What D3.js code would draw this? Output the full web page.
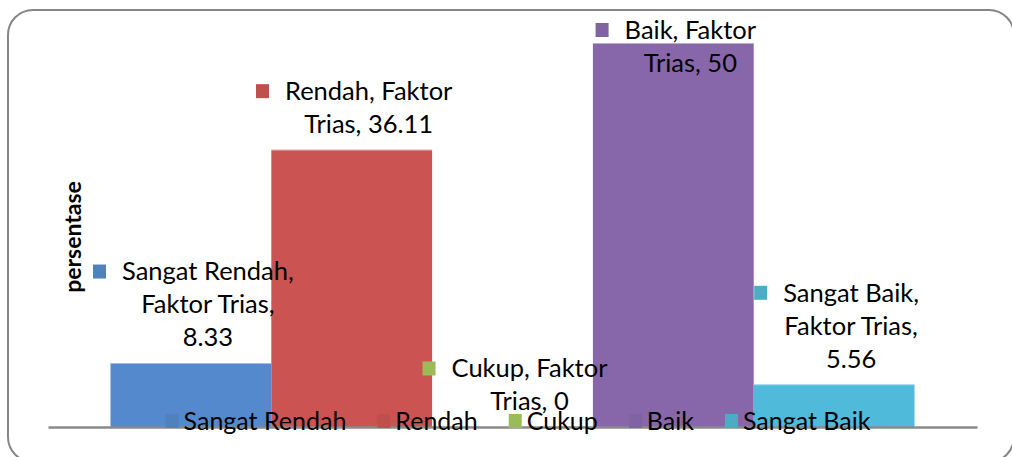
<!DOCTYPE html>
<html>
<head>
<meta charset="utf-8">
<script src="https://cdn.jsdelivr.net/npm/d3@7"></script>
<style>
  html, body { margin: 0; padding: 0; background: #fff; }
  svg { display: block; }
  text { font-family: Lato, "Open Sans", sans-serif; fill: #000; }
</style>
</head>
<body>
<svg id="chart" width="1012" height="457"></svg>
<script>
const categories = ["Faktor Trias"];
const seriesNames = ["Sangat Rendah", "Rendah", "Cukup", "Baik", "Sangat Baik"];
const seriesValues = [8.33, 36.11, 0, 50, 5.56];
const labelLines = [
  ["Sangat Rendah,", "Faktor Trias,", "8.33"],
  ["Rendah, Faktor", "Trias, 36.11"],
  ["Cukup, Faktor", "Trias, 0"],
  ["Baik, Faktor", "Trias, 50"],
  ["Sangat Baik,", "Faktor Trias,", "5.56"]
];
const barColors = ["#5589CD", "#CB5453", "#9BBB59", "#8767A9", "#4FBAD9"];
const keyColors = ["#4F81BD", "#C0504D", "#9BBB59", "#8064A2", "#4BACC6"];
const yAxisTitle = "persentase";

const svg = d3.select("#chart");
const plot = { left: 48, right: 977, top: 43, bottom: 427 };

// outer rounded frame
svg.append("rect")
  .attr("x", 8).attr("y", 10).attr("width", 1006).attr("height", 452)
  .attr("rx", 25).attr("ry", 25)
  .attr("fill", "#fff").attr("stroke", "#868686").attr("stroke-width", 2);

const y = d3.scaleLinear().domain([0, 50]).range([plot.bottom, plot.top]);
const x0 = d3.scaleBand().domain(categories).range([plot.left, plot.right]).paddingInner(0).paddingOuter(0.0);
const groupPad = 62.5;
const x1 = d3.scaleBand().domain(seriesNames)
  .range([x0(categories[0]) + groupPad, x0(categories[0]) + x0.bandwidth() - groupPad]);

const data = seriesNames.map((s, i) => ({ name: s, value: seriesValues[i], i }));

// bars
svg.append("g").selectAll("rect").data(data).join("rect")
  .attr("x", d => x1(d.name))
  .attr("width", x1.bandwidth())
  .attr("y", d => y(d.value))
  .attr("height", d => y(0) - y(d.value))
  .attr("fill", d => barColors[d.i]);
// light top edge
svg.append("g").selectAll("line").data(data.filter(d => d.value > 0)).join("line")
  .attr("x1", d => x1(d.name)).attr("x2", d => x1(d.name) + x1.bandwidth())
  .attr("y1", d => y(d.value) + 0.5).attr("y2", d => y(d.value) + 0.5)
  .attr("stroke", "#ffffff").attr("stroke-opacity", 0.45).attr("stroke-width", 1);

// baseline (category axis)
const xAxis = d3.axisBottom(d3.scaleLinear().range([plot.left, plot.right])).ticks(0).tickSize(0).tickSizeOuter(0);
const ax = svg.append("g").attr("transform", `translate(0,${plot.bottom})`).call(xAxis);
ax.select(".domain").attr("stroke", "#8a8a8a").attr("stroke-width", 2.5);
ax.selectAll(".tick").remove();

// y axis title
svg.append("text")
  .attr("transform", `translate(81,237) rotate(-90)`)
  .attr("text-anchor", "middle")
  .attr("font-weight", "bold")
  .attr("font-size", 23)
  .text(yAxisTitle);

// data labels
const FS = 25.5, LH = 33;
const lbl = svg.append("g");
data.forEach(d => {
  const lines = labelLines[d.i];
  const cx = x1(d.name) + x1.bandwidth() / 2 + 17;
  let lastC = y(d.value) - 25.5;
  let firstC = lastC - LH * (lines.length - 1);
  if (firstC < 30) firstC = 30;
  const g = lbl.append("g");
  const t = g.append("text").attr("text-anchor", "middle").attr("font-size", FS);
  lines.forEach((ln, k) => {
    t.append("tspan").attr("x", cx).attr("y", firstC + k * LH).attr("dy", "0.35em").text(ln);
  });
  const w1 = t.select("tspan").node().getComputedTextLength();
  g.append("rect")
    .attr("x", cx - w1 / 2 - 16 - 13).attr("y", firstC - 7)
    .attr("width", 13).attr("height", 14)
    .attr("fill", keyColors[d.i]);
});

// legend
const legY = 421, LFS = 25;
const leg = svg.append("g");
const items = seriesNames.map((s, i) => {
  const tmp = leg.append("text").attr("font-size", LFS).text(s);
  const w = tmp.node().getComputedTextLength();
  tmp.remove();
  return { s, i, w };
});
const gap = 31, keyW = 13, keyGap = 5;
const total = d3.sum(items, it => keyW + keyGap + it.w) + gap * (items.length - 1);
let lx = 518 - total / 2;
items.forEach(it => {
  leg.append("rect").attr("x", lx).attr("y", legY - 7).attr("width", keyW).attr("height", 14)
    .attr("fill", keyColors[it.i]);
  leg.append("text").attr("x", lx + keyW + keyGap).attr("y", legY).attr("dy", "0.35em")
    .attr("font-size", LFS).text(it.s);
  lx += keyW + keyGap + it.w + gap;
});
</script>
</body>
</html>
